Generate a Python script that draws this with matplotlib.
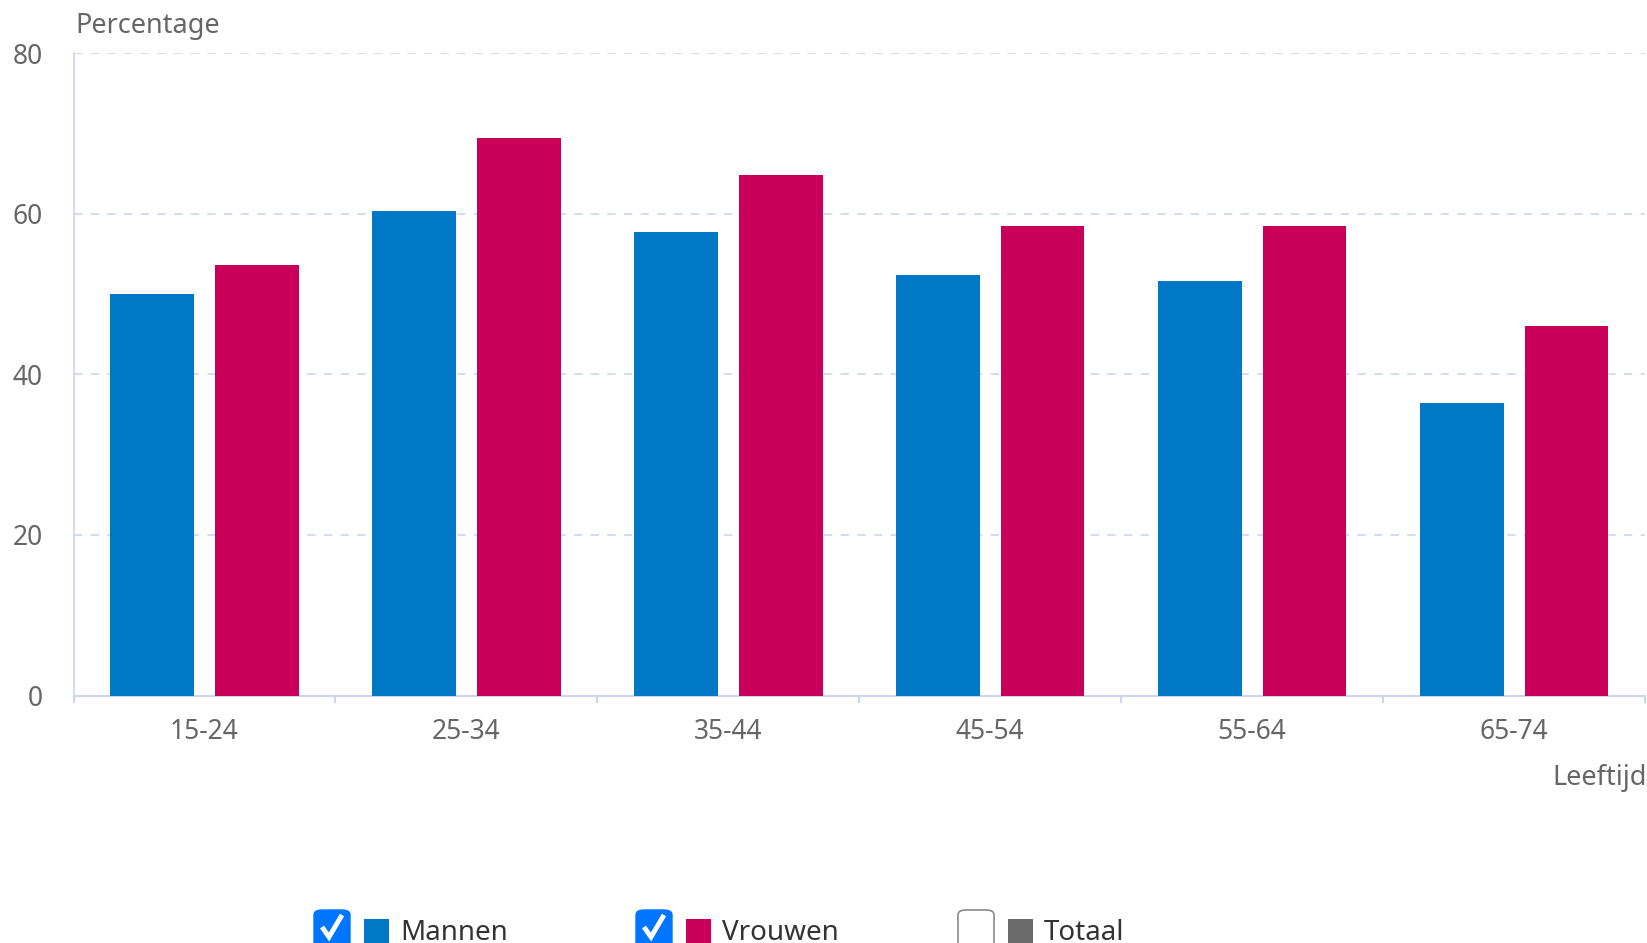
import matplotlib
matplotlib.use("Agg")
import matplotlib.pyplot as plt
import numpy as np
from matplotlib.patches import FancyBboxPatch, Rectangle
from matplotlib.lines import Line2D

plt.rcParams['font.family'] = ['Noto Sans', 'DejaVu Sans']

# data
leeftijd = ['15-24', '25-34', '35-44', '45-54', '55-64', '65-74']
mannen = [50.0, 60.4, 57.7, 52.4, 51.6, 36.5]
vrouwen = [53.7, 69.5, 64.9, 58.5, 58.5, 46.0]
legend_labels = ['Mannen', 'Vrouwen', 'Totaal']
legend_checked = [True, True, False]

BLUE = '#0078c6'
RED = '#c8005a'
GREY = '#6b6b6b'
AXIS = '#ccd6eb'
TXT = '#666666'

W, H = 1647, 943
fig = plt.figure(figsize=(W / 100, H / 100), dpi=100)
ax = fig.add_axes([73.5 / W, 247.5 / H, (1645 - 73.5) / W, (695.5 - 53.5) / H])

x = np.arange(len(leeftijd))
ax.bar(x - 0.2, mannen, width=0.32, color=BLUE, zorder=3)
ax.bar(x + 0.2, vrouwen, width=0.32, color=RED, zorder=3)

ax.set_xlim(-0.5, len(leeftijd) - 0.5)
ax.set_ylim(0, 80)
ax.set_yticks([0, 20, 40, 60, 80])
ax.set_xticks(x)
ax.set_xticklabels(leeftijd)
ax.set_xticks(np.arange(len(leeftijd) + 1) - 0.5, minor=True)

ax.grid(axis='y', color=AXIS, linestyle=(0, (5, 5)), linewidth=1.2, zorder=0)
for s in ['top', 'right']:
    ax.spines[s].set_visible(False)
ax.spines['left'].set_color(AXIS)
ax.spines['bottom'].set_color(AXIS)
ax.spines['left'].set_linewidth(1.2)
ax.spines['bottom'].set_linewidth(1.5)

ax.tick_params(axis='y', length=0, pad=22, labelsize=19, labelcolor=TXT)
ax.tick_params(axis='x', which='major', length=0, pad=16, labelsize=19, labelcolor=TXT)
ax.tick_params(axis='x', which='minor', length=5, width=1.5, color=AXIS)

fig.text(75 / W, 1 - 26 / H, 'Percentage', fontsize=19.5, color=TXT, va='center', ha='left')
fig.text(1647 / W, 1 - 778 / H, 'Leeftijd', fontsize=19.5, color=TXT, va='center', ha='right')

# legend with checkboxes along the bottom edge
box_x = [314, 636, 958]
colors = [BLUE, RED, GREY]
for bx, lab, col, chk in zip(box_x, legend_labels, colors, legend_checked):
    top = H - 910
    if chk:
        fig.patches.append(FancyBboxPatch((bx / W, (top - 40) / H), 36 / W, 40 / H,
                                          boxstyle='round,pad=0,rounding_size=0.005',
                                          transform=fig.transFigure, facecolor='#0075ff',
                                          edgecolor='#0075ff', linewidth=1))
        fig.lines.append(Line2D([(bx + 8) / W, (bx + 15) / W, (bx + 28) / W],
                                [(top - 17) / H, (top - 27) / H, (top - 5) / H],
                                transform=fig.transFigure, color='white', linewidth=3.5,
                                solid_joinstyle='miter', solid_capstyle='butt'))
    else:
        fig.patches.append(FancyBboxPatch((bx / W, (top - 40) / H), 36 / W, 40 / H,
                                          boxstyle='round,pad=0,rounding_size=0.005',
                                          transform=fig.transFigure, facecolor='white',
                                          edgecolor='#8a8a8a', linewidth=1.2))
    fig.patches.append(Rectangle(((bx + 50) / W, (top - 9 - 24) / H), 25 / W, 24 / H,
                                 transform=fig.transFigure, facecolor=col, edgecolor='none'))
    fig.text((bx + 86) / W, (top - 23) / H, lab, fontsize=20, color='#333333',
             ha='left', va='center')

fig.savefig('out.png', dpi=100)
